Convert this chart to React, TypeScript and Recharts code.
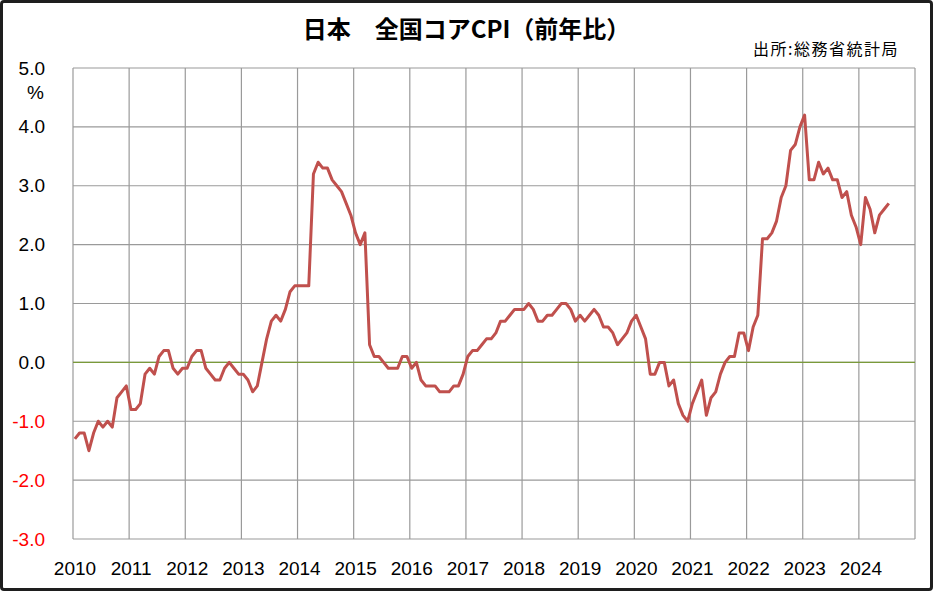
import { LineChart, Line, XAxis, YAxis, CartesianGrid, ReferenceLine } from 'recharts';

// 全国コアCPI 前年比（%）、月次
const cpi2010 = [-1.3, -1.2, -1.2, -1.5, -1.2, -1.0, -1.1, -1.0, -1.1, -0.6, -0.5, -0.4];
const cpi2011 = [-0.8, -0.8, -0.7, -0.2, -0.1, -0.2, 0.1, 0.2, 0.2, -0.1, -0.2, -0.1];
const cpi2012 = [-0.1, 0.1, 0.2, 0.2, -0.1, -0.2, -0.3, -0.3, -0.1, 0.0, -0.1, -0.2];
const cpi2013 = [-0.2, -0.3, -0.5, -0.4, 0.0, 0.4, 0.7, 0.8, 0.7, 0.9, 1.2, 1.3];
const cpi2014 = [1.3, 1.3, 1.3, 3.2, 3.4, 3.3, 3.3, 3.1, 3.0, 2.9, 2.7, 2.5];
const cpi2015 = [2.2, 2.0, 2.2, 0.3, 0.1, 0.1, 0.0, -0.1, -0.1, -0.1, 0.1, 0.1];
const cpi2016 = [-0.1, 0.0, -0.3, -0.4, -0.4, -0.4, -0.5, -0.5, -0.5, -0.4, -0.4, -0.2];
const cpi2017 = [0.1, 0.2, 0.2, 0.3, 0.4, 0.4, 0.5, 0.7, 0.7, 0.8, 0.9, 0.9];
const cpi2018 = [0.9, 1.0, 0.9, 0.7, 0.7, 0.8, 0.8, 0.9, 1.0, 1.0, 0.9, 0.7];
const cpi2019 = [0.8, 0.7, 0.8, 0.9, 0.8, 0.6, 0.6, 0.5, 0.3, 0.4, 0.5, 0.7];
const cpi2020 = [0.8, 0.6, 0.4, -0.2, -0.2, 0.0, 0.0, -0.4, -0.3, -0.7, -0.9, -1.0];
const cpi2021 = [-0.7, -0.5, -0.3, -0.9, -0.6, -0.5, -0.2, 0.0, 0.1, 0.1, 0.5, 0.5];
const cpi2022 = [0.2, 0.6, 0.8, 2.1, 2.1, 2.2, 2.4, 2.8, 3.0, 3.6, 3.7, 4.0];
const cpi2023 = [4.2, 3.1, 3.1, 3.4, 3.2, 3.3, 3.1, 3.1, 2.8, 2.9, 2.5, 2.3];
const cpi2024 = [2.0, 2.8, 2.6, 2.2, 2.5, 2.6, 2.7];

const yearLabels = ['2010', '2011', '2012', '2013', '2014', '2015', '2016', '2017', '2018', '2019', '2020', '2021', '2022', '2023', '2024'];
const yTicks = [-3, -2, -1, 0, 1, 2, 3, 4, 5];

const byYear = [
  cpi2010, cpi2011, cpi2012, cpi2013, cpi2014, cpi2015, cpi2016, cpi2017,
  cpi2018, cpi2019, cpi2020, cpi2021, cpi2022, cpi2023, cpi2024,
];

// 月番号（2010年1月 = 0）。点は月の中ほどに置く
const data = byYear.flatMap((vals, y) =>
  vals.map((v, m) => ({ t: y * 12 + m + 0.4, cpi: v }))
);
const xTicks = Array.from({ length: yearLabels.length + 1 }, (_, i) => i * 12);

const numFont = '"Liberation Sans", Arial, sans-serif';
const jpFont = '"Noto Sans CJK JP", "Noto Sans", sans-serif';

const YTick = (props: any) => {
  const v = props.payload.value as number;
  return (
    <text
      x={45}
      y={props.y}
      textAnchor="end"
      dominantBaseline="central"
      fontFamily={numFont}
      fontSize={19}
      fill={v < 0 ? '#ff0000' : '#000000'}
    >
      {v.toFixed(1)}
    </text>
  );
};

const XTick = (props: any) => {
  const idx = Math.round(props.payload.value / 12);
  const label = yearLabels[idx];
  if (!label) return null;
  return (
    <text
      x={props.x + 2}
      y={568}
      textAnchor="middle"
      dominantBaseline="central"
      fontFamily={numFont}
      fontSize={19}
      fill="#000000"
    >
      {label}
    </text>
  );
};

export default function App() {
  return (
    <div
      style={{
        position: 'absolute',
        left: 0,
        top: 0,
        width: 933,
        height: 591,
        boxSizing: 'border-box',
        border: '3px solid #1e1e1e',
        borderRadius: 4,
        background: '#ffffff',
        overflow: 'hidden',
      }}
    >
      <div
        style={{
          position: 'absolute',
          left: -3,
          top: 13,
          width: 933,
          textAlign: 'center',
          fontFamily: jpFont,
          fontWeight: 700,
          fontSize: 24,
          lineHeight: 1,
          color: '#000',
        }}
      >
        日本　全国コアCPI（前年比）
      </div>
      <div
        style={{
          position: 'absolute',
          right: 31,
          top: 37,
          fontFamily: jpFont,
          fontSize: 16,
          lineHeight: 1,
          letterSpacing: 1.5,
          color: '#000',
        }}
      >
        出所:総務省統計局
      </div>
      <div
        style={{
          position: 'absolute',
          left: 24,
          top: 80,
          fontFamily: numFont,
          fontSize: 19,
          lineHeight: 1,
          color: '#000',
        }}
      >
        %
      </div>
      <div style={{ position: 'absolute', left: -3, top: -3 }}>
        <LineChart
          width={933}
          height={591}
          data={data}
          margin={{ top: 68, right: 18, bottom: 0, left: 13 }}
        >
          <CartesianGrid stroke="#9a9a9a" strokeWidth={1.2} horizontalValues={yTicks} verticalValues={xTicks} />
          <XAxis
            dataKey="t"
            type="number"
            domain={[0, 180]}
            ticks={xTicks}
            interval={0}
            height={52}
            axisLine={false}
            tickLine={false}
            tick={<XTick />}
          />
          <YAxis
            type="number"
            domain={[-3, 5]}
            ticks={yTicks}
            interval={0}
            width={60}
            axisLine={false}
            tickLine={false}
            tick={<YTick />}
          />
          <ReferenceLine y={0} stroke="#7a9a3a" strokeWidth={1.2} />
          <Line
            type="linear"
            dataKey="cpi"
            stroke="#c0504d"
            strokeWidth={3}
            dot={false}
            strokeLinejoin="round"
            isAnimationActive={false}
          />
        </LineChart>
      </div>
    </div>
  );
}
